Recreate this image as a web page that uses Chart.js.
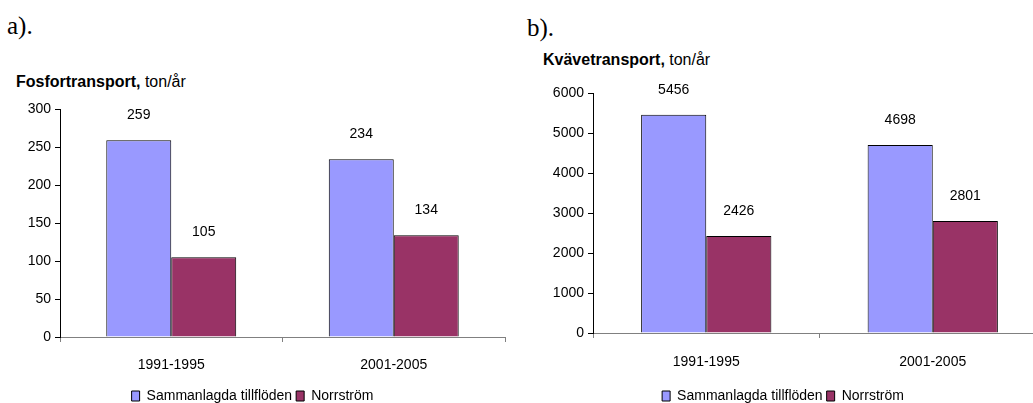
<!DOCTYPE html>
<html>
<head>
<meta charset="utf-8">
<script src="https://cdn.jsdelivr.net/npm/chart.js@4"></script>
<style>
    html, body { margin: 0; padding: 0; background: #fff; width: 1033px; height: 403px; overflow: hidden; }
    .wrap { position: relative; width: 1033px; height: 403px; }
    .box { position: absolute; top: 0; height: 413px; }
    .tag { position: absolute; font-family: 'Liberation Serif', 'Times New Roman', serif; font-size: 25px; line-height: 25px; color: #000; }
    .title { position: absolute; font-family: 'Liberation Sans', Arial, sans-serif; font-size: 16px; line-height: 16px; color: #000; white-space: nowrap; }
    .title b { font-weight: bold; }
</style>
</head>
<body>
<div class="wrap">
    <div class="tag" style="left:7px; top:13px;">a).</div>
    <div class="tag" style="left:527px; top:15px;">b).</div>
    <div class="title" style="left:16px; top:74px;"><b>Fosfortransport,</b> ton/år</div>
    <div class="title" style="left:543px; top:52px;"><b>Kvävetransport,</b> ton/år</div>
    <div class="box" style="left:0; width:562px;"><canvas id="chartA"></canvas></div>
    <div class="box" style="left:520px; width:570px;"><canvas id="chartB"></canvas></div>
</div>
<script>
// chart data
const periods = ['1991-1995', '2001-2005'];
const seriesNames = ['Sammanlagda tillflöden', 'Norrström'];
const fosforTotal = [259, 234];
const fosforNorrstrom = [105, 134];
const kvaveTotal = [5456, 4698];
const kvaveNorrstrom = [2426, 2801];
const fosforTicks = [0, 50, 100, 150, 200, 250, 300];
const kvaveTicks = [0, 1000, 2000, 3000, 4000, 5000, 6000];

const seriesColors = ['#9999FF', '#993366'];
const fontFamily = "'Liberation Sans', Arial, sans-serif";

Chart.defaults.font.family = fontFamily;
Chart.defaults.font.size = 14;
Chart.defaults.color = '#000';

// draws the value above each bar
const valueLabels = {
    id: 'valueLabels',
    afterDatasetsDraw(chart) {
        const ctx = chart.ctx;
        ctx.save();
        ctx.font = '14px ' + fontFamily;
        ctx.fillStyle = '#000';
        ctx.textAlign = 'center';
        ctx.textBaseline = 'middle';
        chart.data.datasets.forEach((ds, i) => {
            chart.getDatasetMeta(i).data.forEach((bar, j) => {
                ctx.fillText(String(ds.data[j]), bar.x, bar.y - 25);
            });
        });
        ctx.restore();
    }
};

function makeChart(id, totals, norrstrom, ticks, opts) {
    const ctx = document.getElementById(id).getContext('2d');
    return new Chart(ctx, {
        type: 'bar',
        data: {
            labels: periods,
            datasets: [{
                label: seriesNames[0],
                data: totals,
                backgroundColor: seriesColors[0],
                borderColor: '#000',
                borderWidth: 1,
                categoryPercentage: opts.catPct,
                barPercentage: 1
            }, {
                label: seriesNames[1],
                data: norrstrom,
                backgroundColor: seriesColors[1],
                borderColor: '#000',
                borderWidth: 1,
                categoryPercentage: opts.catPct,
                barPercentage: 1
            }]
        },
        options: {
            responsive: true,
            maintainAspectRatio: false,
            animation: false,
            layout: {
                padding: { top: opts.top, right: opts.right, left: 0, bottom: 0 }
            },
            scales: {
                x: {
                    grid: {
                        offset: true,
                        drawOnChartArea: false,
                        tickLength: 5,
                        color: '#808080'
                    },
                    border: { color: '#808080' },
                    ticks: { padding: opts.xPad },
                    afterFit(scale) { scale.height = opts.xHeight; }
                },
                y: {
                    min: ticks[0],
                    max: ticks[ticks.length - 1],
                    afterBuildTicks(scale) { scale.ticks = ticks.map(v => ({ value: v })); },
                    grid: {
                        drawOnChartArea: false,
                        tickLength: 5,
                        color: '#000'
                    },
                    border: { color: '#000' },
                    ticks: {
                        padding: 4,
                        callback: v => String(v)
                    },
                    afterFit(scale) { scale.width = opts.yWidth; }
                }
            },
            plugins: {
                legend: {
                    position: 'bottom',
                    labels: {
                        boxWidth: 8,
                        boxHeight: 10,
                        padding: 4,
                        color: '#000'
                    }
                },
                tooltip: { enabled: false }
            }
        },
        plugins: [valueLabels]
    });
}

makeChart('chartA', fosforTotal, fosforNorrstrom, fosforTicks,
    { top: 109, right: 57, yWidth: 60, xHeight: 48, xPad: 15, catPct: 0.584 });
makeChart('chartB', kvaveTotal, kvaveNorrstrom, kvaveTicks,
    { top: 93, right: 44, yWidth: 73, xHeight: 52, xPad: 16, catPct: 0.575 });
</script>
</body>
</html>
